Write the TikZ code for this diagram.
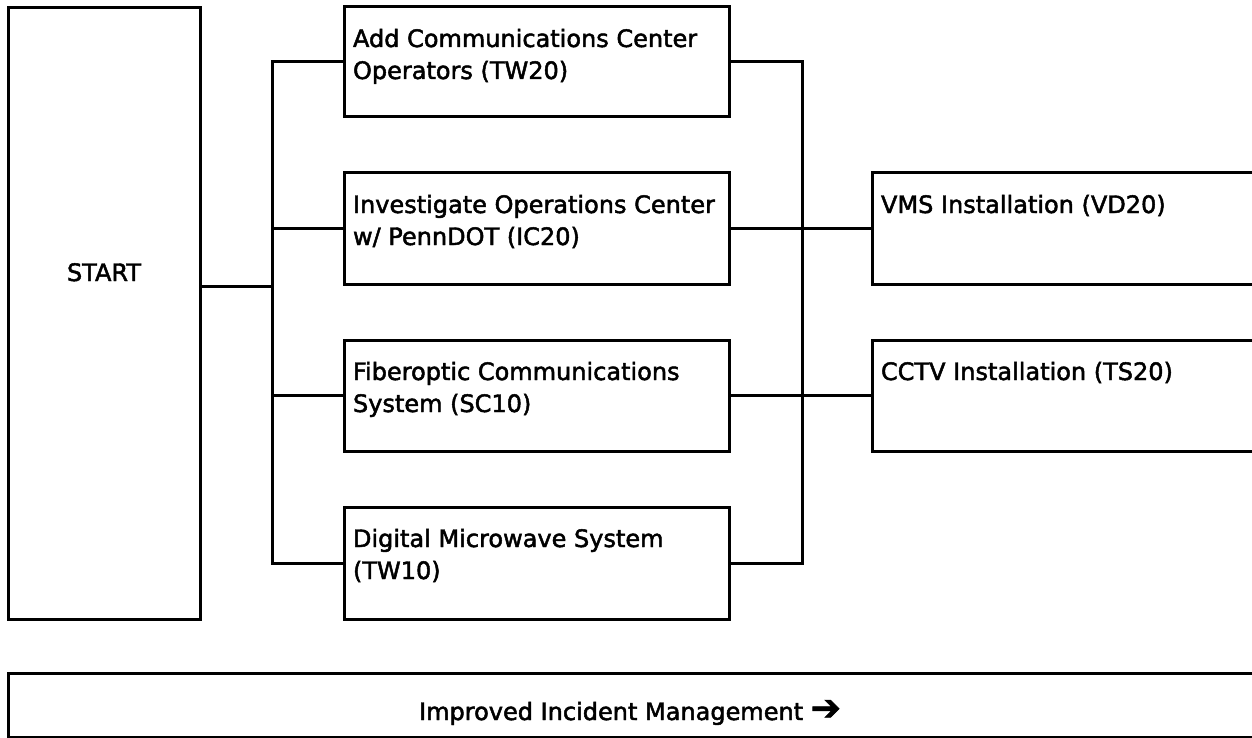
\documentclass[tikz,border=0pt]{standalone}
\usepackage{fontspec}
\setmainfont{DejaVu Sans}
\newfontfamily\medfont{DejaVu Sans}[FakeBold=2]
\begin{document}
\begin{tikzpicture}[x=1pt,y=-1pt,
  frame/.style={draw=black, line width=3pt, inner sep=0pt, outer sep=0pt, anchor=north west},
  lbl/.style={inner sep=0pt, outer sep=0pt, align=left, anchor=north west,
              font=\medfont\fontsize{24}{32}\selectfont},
  link/.style={draw=black, line width=3pt, line cap=rect, line join=miter}]
\useasboundingbox (0,0) rectangle (1252,738);
\clip (0,0) rectangle (1252,738);

% boxes
\node[frame, minimum width=192pt, minimum height=611pt] (start) at (8,8) {};
\node[frame, minimum width=385pt, minimum height=110pt] (b1) at (344,7) {};
\node[frame, minimum width=385pt, minimum height=111pt] (b2) at (344,173) {};
\node[frame, minimum width=385pt, minimum height=111pt] (b3) at (344,340) {};
\node[frame, minimum width=385pt, minimum height=112pt] (b4) at (344,507) {};
\node[frame, minimum width=400pt, minimum height=111pt] (vms) at (872,173) {};
\node[frame, minimum width=400pt, minimum height=111pt] (cctv) at (872,340) {};
\node[frame, minimum width=1264pt, minimum height=64pt] (goal) at (8,673) {};

% box texts
\node[lbl, anchor=base] (startt) at ([yshift=32.5pt]start.center) {START};
\node[lbl] (b1t) at ([xshift=9pt]b1.north west) {\rule{0pt}{40pt}Add Communications Center\\Operators (TW20)};
\node[lbl] (b2t) at ([xshift=9pt]b2.north west) {\rule{0pt}{40pt}Investigate Operations Center\\w/ PennDOT (IC20)};
\node[lbl] (b3t) at ([xshift=9pt]b3.north west) {\rule{0pt}{40pt}Fiberoptic Communications\\System (SC10)};
\node[lbl] (b4t) at ([xshift=9pt]b4.north west) {\rule{0pt}{40pt}Digital Microwave System\\(TW10)};
\node[lbl] (vmst) at ([xshift=9pt]vms.north west) {\rule{0pt}{40pt}VMS Installation (VD20)};
\node[lbl] (cctvt) at ([xshift=9pt]cctv.north west) {\rule{0pt}{40pt}CCTV Installation (TS20)};
\node[lbl, anchor=base] (goalt) at ([xshift=-10pt,yshift=-15pt]goal.center)
  {Improved Incident Management {\fontsize{36}{36}\selectfont ➔}};

% bus lines
\coordinate (lbus) at (272,0);
\coordinate (rbus) at (802,0);
\coordinate (tap) at ([yshift=27.5pt]start.east);

\draw[link] (tap) -- (tap -| lbus);
\draw[link] (b1.west) -- (b1.west -| lbus) -- (b4.west -| lbus) -- (b4.west);
\draw[link] (b2.west) -- (b2.west -| lbus);
\draw[link] (b3.west) -- (b3.west -| lbus);
\draw[link] (b1.east) -- (b1.east -| rbus) -- (b4.east -| rbus) -- (b4.east);
\draw[link] (b2.east) -- (vms.west);
\draw[link] (b3.east) -- (cctv.west);
\end{tikzpicture}
\end{document}
